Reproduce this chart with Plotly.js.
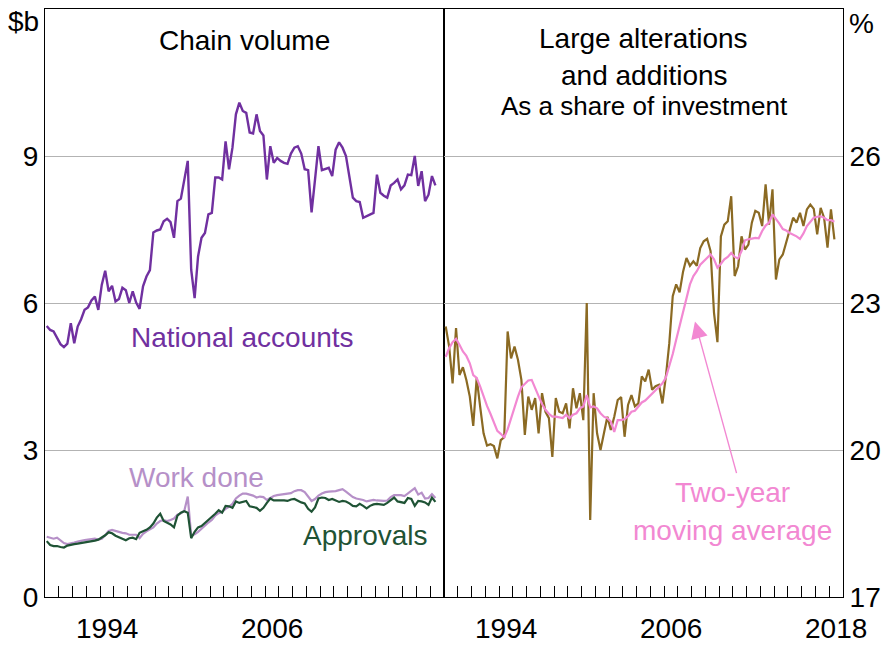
<!DOCTYPE html>
<html>
<head>
<meta charset="utf-8">
<script src="https://cdn.plot.ly/plotly-3.0.1.min.js"></script>
<style>html,body{margin:0;padding:0;background:#fff;}#chart{width:883px;height:646px;}</style>
</head>
<body>
<div id="chart"></div>
<script>
// Quarterly data, 1990 Q1 to 2018 Q2
const startYear = 1990;
const nationalAccounts = [5.53,5.45,5.42,5.30,5.16,5.10,5.17,5.59,5.18,5.52,
5.67,5.86,5.91,6.05,6.13,5.86,6.37,6.66,6.24,6.35,6.03,6.08,6.31,6.26,6.00,6.24,6.01,5.88,6.34,6.54,6.67,7.44,7.48,7.50,7.67,7.72,7.65,7.33,8.08,8.13,8.49,8.90,6.68,6.10,6.95,7.33,7.43,7.81,7.84,8.56,8.56,8.52,9.30,8.73,9.17,9.85,10.09,9.92,9.88,9.48,9.46,9.85,
9.51,9.42,8.52,9.20,8.86,8.96,8.90,8.86,8.84,9.05,9.17,9.20,9.05,8.73,8.71,7.85,8.52,9.20,8.71,8.73,8.76,8.59,9.13,9.28,9.17,9.00,8.59,8.15,8.08,8.06,7.74,7.77,7.81,7.84,8.62,8.25,8.19,8.15,8.40,8.45,8.52,8.32,8.40,8.62,8.61,9.00,8.39,8.69,8.08,8.21,8.59,8.40];
const workDone = [1.23,1.21,1.19,1.21,1.15,1.10,1.08,1.09,1.11,1.13,
1.15,1.16,1.17,1.18,1.19,1.17,1.19,1.26,1.35,1.37,1.35,1.32,1.31,1.30,1.27,1.27,1.27,1.20,1.29,1.34,
1.38,1.42,1.50,1.55,1.57,1.55,1.57,1.60,1.68,1.71,1.76,2.05,1.25,1.28,1.33,1.40,1.46,1.52,1.57,1.66,
1.71,1.74,1.80,1.84,1.90,2.01,2.07,2.11,2.11,2.09,2.07,2.03,2.05,2.04,1.98,2.02,2.06,2.08,2.09,2.10,
2.11,2.12,2.16,2.18,2.18,2.14,2.05,1.96,2.00,2.07,2.11,2.14,2.15,2.15,2.16,2.18,2.20,2.15,2.09,2.04,
2.01,2.00,1.98,1.95,1.96,1.98,1.97,1.96,1.96,1.97,2.04,2.08,2.08,2.08,2.06,2.11,2.17,2.22,2.09,2.13,
2.01,2.02,2.10,2.02];
const approvals = [1.14,1.06,1.04,1.04,1.02,1.01,1.05,1.07,1.08,1.09,
1.10,1.11,1.12,1.14,1.15,1.17,1.21,1.26,1.32,1.30,1.25,1.22,1.19,1.16,1.20,1.21,1.18,1.31,1.34,1.37,
1.42,1.50,1.62,1.70,1.55,1.51,1.48,1.42,1.66,1.72,1.75,1.72,1.20,1.33,1.42,1.45,1.51,1.57,1.62,1.70,
1.77,1.72,1.86,1.85,1.82,1.95,1.92,1.94,1.96,1.85,1.84,1.82,1.76,1.82,1.92,2.01,1.97,1.97,1.98,1.97,
1.96,1.99,2.00,1.96,1.93,1.91,1.80,1.74,1.83,2.01,2.03,2.02,1.98,2.00,1.97,1.94,1.96,1.95,1.91,1.86,
1.85,1.90,1.86,1.81,1.86,1.89,1.90,1.89,1.88,1.92,1.98,2.03,1.95,1.93,1.92,2.02,2.00,1.86,1.96,1.95,
1.93,1.88,2.03,1.94];
const largeAlterShare = [22.52,22.11,21.36,22.49,21.53,21.69,21.43,21.09,20.49,21.47,
20.89,20.34,20.09,20.12,20.08,19.83,20.20,20.26,22.42,21.87,
22.11,21.84,21.43,20.31,21.09,20.82,21.06,20.34,21.16,20.78,
20.65,19.86,21.06,20.78,20.75,20.95,20.44,21.26,20.85,21.16,
20.61,23.00,18.57,21.16,20.34,20.00,20.34,20.68,20.41,20.68,
21.02,21.08,20.27,20.92,21.12,20.89,20.95,21.50,21.40,21.64,
21.23,21.30,21.33,20.95,21.50,22.18,23.14,23.38,23.22,23.64,
23.92,23.76,23.85,23.76,24.12,24.26,24.31,24.06,22.80,22.20,
24.36,24.60,24.67,25.18,23.55,23.75,24.36,24.09,24.19,24.64,
24.88,24.84,24.57,25.42,24.60,25.32,23.48,23.89,23.99,24.23,
24.47,24.74,24.64,24.84,24.57,24.91,25.01,24.92,24.40,24.94,
24.74,24.13,24.91,24.30];
const twoYearAvg = [21.90,22.08,22.20,22.27,22.15,22.01,21.92,21.77,21.53,21.47,
21.30,21.08,20.90,20.74,20.56,20.39,20.33,20.26,20.42,20.65,
20.89,21.09,21.28,21.36,21.42,21.43,21.28,21.10,20.94,20.82,
20.74,20.68,20.68,20.67,20.65,20.72,20.65,20.72,20.75,20.85,
20.89,21.12,20.87,20.89,20.85,20.75,20.68,20.65,20.58,20.37,
20.61,20.61,20.63,20.69,20.78,20.80,20.89,20.97,21.01,21.08,
21.16,21.23,21.30,21.36,21.48,21.70,21.96,22.25,22.52,22.80,
23.07,23.38,23.55,23.65,23.78,23.85,23.92,23.99,23.89,23.72,
23.80,23.89,23.94,24.02,23.94,23.91,24.06,24.28,24.30,24.31,
24.33,24.32,24.47,24.58,24.64,24.81,24.72,24.62,24.51,24.48,
24.43,24.40,24.36,24.31,24.42,24.57,24.65,24.74,24.76,24.77,
24.74,24.69,24.69,24.66];
const yearLabelsLeft = ['1994','2006'];
const yearLabelsRight = ['1994','2006','2018'];
const leftTicks = [0,3,6,9];
const rightTicks = [17,20,23,26];

// quarter mid-points as decimal years
const quarters = nationalAccounts.map((_, i) => startYear + 0.125 + 0.25 * i);

const FONT = '"Liberation Sans", Arial, sans-serif';
const C = {nat:'#7030a0', work:'#b690c8', appr:'#1f5335', brown:'#8b6a23', pink:'#f288d2', grid:'#b3b3b3'};

const traces = [
  {x: quarters, y: workDone, xaxis:'x', yaxis:'y', mode:'lines', line:{color:C.work, width:2.2}},
  {x: quarters, y: approvals, xaxis:'x', yaxis:'y', mode:'lines', line:{color:C.appr, width:2.2}},
  {x: quarters, y: nationalAccounts, xaxis:'x', yaxis:'y', mode:'lines', line:{color:C.nat, width:2.4}},
  {x: quarters, y: largeAlterShare, xaxis:'x2', yaxis:'y2', mode:'lines', line:{color:C.brown, width:2.2}},
  {x: quarters, y: twoYearAvg, xaxis:'x2', yaxis:'y2', mode:'lines', line:{color:C.pink, width:2.2}}
];

const W = 883, H = 646, L = 45, R = 40, T = 9, B = 49;
const PX = x => (x - L) / (W - L - R);
const PY = y => (H - B - y) / (H - T - B);

// x axis: yearly inside tick marks; year labels are drawn centred in each year (annotations below)
function xAxis(domain, anchor) {
  return {
    domain: domain, anchor: anchor, range:[1990, 2019],
    tickmode:'linear', tick0:1990, dtick:1, ticks:'inside', ticklen:11, tickcolor:'#000', tickwidth:1,
    showticklabels:false,
    showline:true, linecolor:'#000', linewidth:1, mirror:true,
    showgrid:false, zeroline:false
  };
}
function yAxis(range, ticks, anchor, side) {
  return {
    anchor: anchor, side: side, range: range,
    tickmode:'array', tickvals: ticks, ticks:'',
    tickfont:{family:FONT, size:28, color:'#000'},
    showline:true, linecolor:'#000', linewidth:1, mirror:true,
    showgrid:true, gridcolor:C.grid, gridwidth:1, zeroline:false
  };
}

function label(text, x, y, color, size, xanchor) {
  return {text:text, xref:'paper', yref:'paper', x:PX(x), y:PY(y), xanchor:xanchor||'center', yanchor:'middle',
    showarrow:false, font:{family:FONT, size:size||28, color:color||'#000'}};
}
function yearLabels(labels, xref) {
  return labels.map(s => ({text:s, xref:xref, yref:'paper', x:Number(s) + 0.5, y:PY(628),
    xanchor:'center', yanchor:'middle', showarrow:false, font:{family:FONT, size:28, color:'#000'}}));
}

const annotations = [
  label('$b', 41, 22, '#000', 28, 'right'),
  label('%', 847, 24, '#000', 28, 'left'),
  label('Chain volume', 244, 40),
  label('Large alterations', 643, 38),
  label('and additions', 644, 76),
  label('As a share of investment', 644, 106, '#000', 26),
  label('National accounts', 242, 337, C.nat),
  label('Work done', 196, 477, C.work),
  label('Approvals', 365, 535, C.appr),
  label('Two-year', 732, 492, C.pink),
  label('moving average', 732, 530, C.pink),
  {text:'', xref:'x2', yref:'y2', x:2008.24, y:22.62, axref:'pixel', ayref:'pixel', ax:42, ay:153,
   showarrow:true, arrowhead:2, arrowsize:2.4, arrowwidth:1.4, arrowcolor:C.pink, standoff:0}
].concat(yearLabels(yearLabelsLeft, 'x'), yearLabels(yearLabelsRight, 'x2'));

const layout = {
  width:W, height:H, margin:{l:L, r:R, t:T, b:B, pad:0},
  paper_bgcolor:'#fff', plot_bgcolor:'#fff', showlegend:false,
  font:{family:FONT, size:28, color:'#000'},
  xaxis: xAxis([0, 0.5], 'y'),
  xaxis2: xAxis([0.5, 1], 'y2'),
  yaxis: yAxis([0, 12], leftTicks, 'x', 'left'),
  yaxis2: yAxis([17, 29], rightTicks, 'x2', 'right'),
  annotations: annotations
};

Plotly.newPlot('chart', traces, layout, {displayModeBar:false, staticPlot:true});
</script>
</body>
</html>
